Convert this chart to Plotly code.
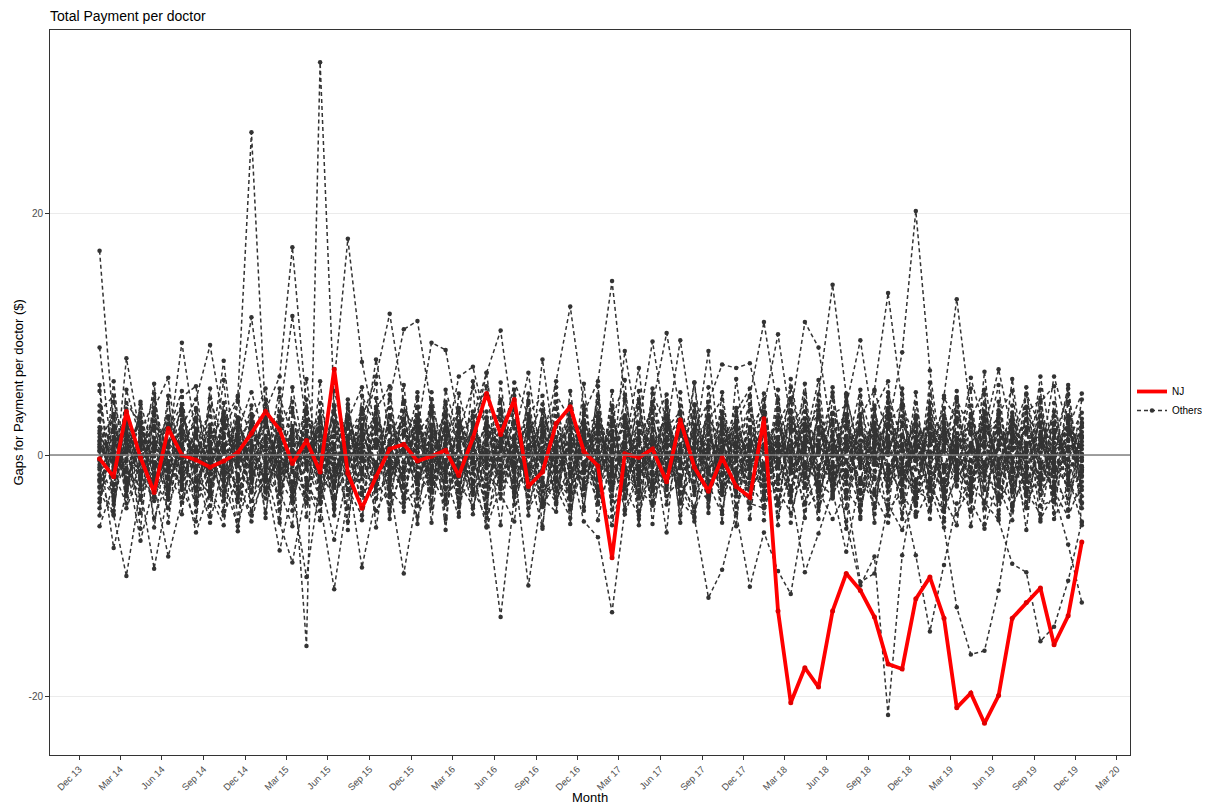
import pandas as pd
import plotly.graph_objects as go

# ---------------- data ----------------
months = [pd.Timestamp(2014 + i // 12, i % 12 + 1, 15) for i in range(72)]

tick_dates = pd.date_range("2013-12-01", "2020-03-01", freq="3MS")
tick_labels = [d.strftime("%b %y") for d in tick_dates]

nj = [-0.3, -1.8, 3.6, -0.2, -3.1, 2.2, 0.0, -0.4, -1.0, -0.5, 0.2, 1.8,
      3.6, 2.1, -0.7, 1.2, -1.4, 7.1, -1.5, -4.4, -1.8, 0.5, 0.9, -0.5,
      -0.1, 0.4, -1.7, 1.4, 5.1, 1.7, 4.6, -2.6, -1.4, 2.6, 4.0, 0.3,
      -0.9, -8.5, 0.1, -0.2, 0.5, -2.2, 2.9, -1.0, -3.0, -0.2, -2.6, -3.5,
      3.0, -12.9, -20.5, -17.6, -19.2, -12.9, -9.8, -11.2, -13.4, -17.3, -17.7, -11.9,
      -10.1, -13.5, -20.9, -19.7, -22.2, -19.9, -13.5, -12.2, -11.0, -15.7, -13.3, -7.2]

others_01 = [16.9, 2.1, -3.4, 1.8, 4.6, -0.7, 2.9, -2.2, 0.8, 3.5, -1.6, 1.2,
             -2.8, 0.4, 3.9, -1.1, 2.3, -4.1, 1.5, 0.2, -2.5, 3.1, -0.6, 2.4,
             -1.9, 4.2, 0.9, -3.3, 1.7, -0.4, 2.8, -1.5, 3.6, 0.3, -2.7, 1.1,
             2.5, -1.8, 0.6, 7.2, -2.9, 1.3, -0.5, 4.1, -1.2, 0.7, 2.2, -3.6,
             1.9, -0.8, 3.7, -2.4, 0.5, 5.2, -1.7, 2.6, -3.1, 1.4, -0.3, 3.3,
             -2.2, 0.9, 4.4, -1.4, 2.1, -3.8, 0.6, 3.0, -1.1, 2.7, -0.9, 1.6]
others_02 = [8.9, -1.2, 2.4, -3.7, 0.5, 3.2, -2.1, 1.6, -0.8, 2.9, 4.8, 26.7,
             3.1, -2.6, 1.9, 0.4, -3.5, 2.2, -0.7, 3.8, -1.9, 0.6, 2.5, -2.3,
             1.4, -0.9, 3.6, -2.8, 0.8, 4.5, -1.3, 2.0, -3.9, 1.1, 0.2, 3.3,
             -1.6, 2.7, -0.2, 1.8, -4.2, 0.9, 3.5, -1.0, 2.3, -2.6, 1.5, 0.3,
             4.0, -2.0, 6.3, -0.6, 3.1, -3.2, 2.2, 0.7, -1.8, 4.3, -0.4, 1.9,
             -3.0, 2.6, 0.1, -1.5, 3.4, -2.4, 1.0, 2.9, -0.8, -2.9, 1.7, 0.5]
others_03 = [-0.8, 3.3, -1.9, 0.7, 2.4, -2.8, 1.4, 3.9, -0.5, 1.8, -3.3, 0.9,
             2.6, -1.4, 0.3, -15.8, 32.5, 4.1, -2.3, 1.2, 3.5, -1.7, 0.8, -2.9,
             1.9, 0.2, -3.1, 2.7, -0.6, 3.4, -2.2, 0.5, 1.6, -4.0, 2.3, -0.9,
             3.2, -1.5, 1.0, -2.5, 4.4, 0.6, -1.9, 2.5, -0.3, 1.3, -3.4, 2.1,
             -0.7, 1.5, -2.6, 3.6, 0.4, -1.6, 2.8, -3.7, 1.1, 0.0, 3.9, -1.2,
             2.4, -3.5, 1.3, 0.8, -2.1, 3.7, -0.4, 1.9, -2.8, 0.6, 2.2, -1.4]
others_04 = [1.2, -2.4, 0.6, 3.1, -1.5, 2.0, -0.3, -3.6, 1.9, 0.4, 2.8, -1.1,
             3.7, 6.5, 17.2, 3.9, -1.8, 0.9, 2.6, -2.0, 1.3, -0.8, 3.0, -1.7,
             0.5, 2.3, -2.9, 1.7, -0.2, 3.8, -1.4, 0.8, 2.5, -3.0, 1.2, 0.1,
             -2.1, 1.6, 3.3, -0.9, 0.4, -2.7, 2.1, 1.0, -1.6, 3.6, -0.5, 2.0,
             -3.3, 0.7, 2.4, -1.1, 3.2, -0.6, -2.4, 1.8, 0.3, -1.9, 2.7, -0.2,
             1.5, -2.6, 0.2, 3.1, -1.3, 0.8, 2.5, -3.2, 1.4, -0.7, 2.9, -1.8]
others_05 = [-1.6, 0.8, 2.7, -0.4, -2.3, 1.1, 3.6, -1.0, 0.3, -2.6, 1.7, 2.4,
             -0.9, 1.4, -2.2, 2.9, 0.6, 6.0, 17.9, 7.7, 2.0, -1.3, 0.7, 2.8,
             -2.4, 0.9, 1.8, -1.2, 3.1, -0.3, 1.5, -2.9, 0.6, 2.6, -1.5, 0.8,
             2.9, -0.6, -2.3, 1.2, 0.5, 3.0, -1.7, 0.2, 2.4, -3.0, 1.0, -0.4,
             0.6, 2.5, -1.4, 0.1, -2.8, 1.9, 3.4, -0.7, -1.9, 2.2, 0.4, -2.7,
             3.0, -1.0, 1.8, -2.3, 0.7, 2.0, -3.1, 0.9, 1.6, -1.2, -0.3, 2.4]
others_06 = [2.3, -0.5, 1.2, -2.1, 3.4, 0.2, -1.4, 2.0, -3.1, 0.6, 1.5, -0.8,
             -1.7, 2.8, 0.4, -0.9, 1.9, -2.6, 3.2, -1.1, 0.7, 2.4, -2.0, 1.3,
             0.1, -1.8, 2.6, 0.8, -3.2, 1.4, -0.6, 3.0, -1.3, 0.9, 2.1, -2.5,
             1.7, 0.3, -1.2, 2.7, -0.8, -2.4, 1.6, 0.5, 8.6, -1.5, 0.0, 1.8,
             -2.6, 1.0, 0.2, 2.3, -1.6, 3.5, 0.9, -2.1, 1.3, 2.2, 8.5, 20.2,
             7.0, -2.0, 2.7, 0.3, -1.3, 1.9, -0.7, 2.3, -2.5, 0.4, 1.2, -0.9]
others_07 = [0.4, 1.9, -2.7, 0.9, 2.2, -1.3, 0.5, 3.0, -2.2, 1.4, -0.6, 2.5,
             -3.0, 0.7, 1.6, -1.9, 2.9, 0.1, -0.9, 2.1, -1.6, 3.3, 0.5, -2.4,
             2.0, -0.7, 1.1, 3.2, -2.0, 0.6, -1.4, 2.3, 0.2, 1.5, -2.6, 3.5,
             6.1, 14.4, 4.7, -0.4, 2.0, -1.9, 0.8, 3.1, -1.0, 2.5, -2.2, 0.9,
             1.6, -1.1, 3.0, 0.4, 5.0, 14.1, 5.0, -0.5, 1.9, -2.6, 0.3, 2.6,
             -0.6, 2.1, -1.7, 3.4, 0.2, -2.3, 1.5, 0.6, 3.2, -1.4, 2.0, -0.5]
others_08 = [-2.0, 0.3, 1.7, -1.4, 0.8, 2.6, -2.5, 0.1, 1.9, -0.9, 3.1, -1.7,
             1.0, -2.3, 2.4, 0.6, -1.0, 3.4, -0.2, -2.7, 1.8, 0.4, -1.4, 2.2,
             -0.4, 3.1, -1.6, 0.7, 2.2, -2.5, 1.0, -0.1, 3.0, -1.9, 0.8, 1.7,
             -2.8, 0.5, 2.6, -1.4, 1.3, 0.2, -0.9, 6.0, -2.1, 0.4, 3.2, -1.0,
             0.9, 2.8, -0.6, -1.8, 1.7, 0.5, -2.2, 3.1, 5.4, 13.4, 4.2, 1.1,
             -1.5, 4.9, 12.9, 3.3, -0.8, 1.8, -2.0, 0.7, 2.6, -1.1, 0.3, 1.9]
others_09 = [3.0, -1.5, 0.2, 2.3, -0.6, -2.9, 1.8, 0.6, -1.2, 2.7, 0.0, -2.3,
             1.6, 0.5, -2.6, 1.9, 3.1, -1.0, 0.3, 2.5, -2.4, 1.2, 3.0, -0.3,
             -1.4, 2.2, 0.4, -2.1, 1.0, 3.5, -0.7, 2.9, 1.1, 6.1, 12.3, 4.1,
             -0.9, 1.5, -2.6, 2.0, 0.6, -1.3, 3.4, -0.2, 1.7, -2.4, 2.8, 4.9,
             11.0, 3.7, -1.2, 0.8, 2.3, -1.5, 1.1, -2.9, 0.6, 2.4, -0.7, 3.1,
             0.2, -2.3, 1.4, 2.6, -1.6, 0.9, 3.2, -0.6, -2.1, 1.5, 0.4, 2.7]
others_10 = [1.5, -0.2, 2.9, -1.8, 0.9, -3.2, 2.1, 0.4, -1.0, 2.2, 4.5, 11.4,
             2.7, -1.6, 0.8, 3.6, -0.4, -2.2, 1.6, 3.7, -1.3, 0.2, 2.0, -1.9,
             3.4, -2.2, 0.6, 1.9, -1.1, 0.3, 4.0, -2.4, 7.9, -0.2, 3.3, -0.8,
             0.7, -2.9, 1.9, -0.5, 3.0, -1.8, 0.4, 1.6, -3.1, 2.4, 0.9, -1.2,
             2.5, -0.3, -2.6, 1.4, 0.0, 2.9, -1.3, 4.2, -0.8, 1.0, -2.5, 0.5,
             1.8, 0.6, -1.2, -3.0, 2.4, -0.4, 1.3, -1.9, 3.3, 0.1, -2.0, 1.1]
others_11 = [-0.3, 2.4, -1.1, 0.5, 3.3, -0.9, -2.4, 1.7, 0.9, -1.5, 2.0, 5.2,
             1.3, 3.2, 11.5, 2.4, -1.2, 1.6, 0.2, 3.0, 6.5, 11.7, 4.4, 0.6,
             -2.0, 1.2, 2.7, -0.5, -2.6, 1.8, 0.7, -1.6, 2.1, 3.2, -0.3, 1.0,
             -1.2, 0.8, 2.3, -2.0, 1.0, 3.1, -0.6, -2.2, 1.2, 0.3, 2.6, -1.5,
             3.3, -1.9, 0.7, 2.0, -3.0, 0.2, 1.6, -0.4, 2.7, -1.3, 0.9, -2.3,
             0.8, 3.0, -0.6, 1.0, -1.8, 2.6, -0.2, -2.7, 0.9, 2.1, -1.0, 0.0]
others_12 = [0.9, -1.8, 1.3, 2.6, -0.8, 0.6, 9.3, 1.5, -2.1, 0.8, 2.9, -1.4,
             -0.5, 1.9, -2.9, 0.3, 2.2, -1.3, 1.0, 3.4, -0.9, 4.6, 10.4, 11.1,
             3.9, 0.5, -1.7, 2.5, 0.0, -2.3, 1.4, 6.8, -1.2, 0.7, -3.1, 2.2,
             1.1, -0.7, 3.0, -1.9, 0.2, 2.1, -2.4, 1.3, 0.8, -1.0, 2.4, -2.9,
             -0.8, 2.1, 1.2, -2.7, 0.7, -0.1, 3.0, -1.1, 2.3, 0.6, -2.0, 1.4,
             2.6, -1.4, 0.3, 1.7, -2.9, 0.5, 2.2, -0.9, 1.2, -2.6, 3.1, -0.2]
others_13 = [-1.2, 0.7, 3.4, -2.0, 1.1, -0.5, 2.4, 4.6, 9.1, 2.6, -0.9, 1.8,
             0.4, -2.4, 1.7, -0.6, 2.8, 0.1, -1.9, 2.3, 1.0, -1.5, 3.6, 2.1,
             9.3, 8.7, 2.8, -1.1, 1.3, 2.4, -1.8, 0.6, 2.7, -1.4, 1.0, -0.6,
             2.2, -1.3, 8.6, 1.4, -3.0, 2.6, 0.5, -0.7, 3.1, 1.1, -2.1, 0.8,
             -1.0, 0.4, 2.9, -1.6, 1.2, -2.5, 0.6, 2.5, -1.3, 0.3, 3.2, -0.5,
             1.3, 2.7, -2.1, 0.5, 1.6, -1.1, 2.9, 0.2, -1.7, 1.8, -0.4, 2.3]
others_14 = [2.0, -2.9, 8.0, 1.5, -1.7, 3.0, 0.1, -1.2, 2.5, -2.0, 0.7, 3.3,
             -1.0, 1.1, -0.4, 2.7, -2.7, 1.5, 3.3, -0.5, 0.9, -2.3, 1.6, 0.0,
             2.5, -1.3, 1.8, 3.1, 6.8, 10.3, 2.2, -0.8, 1.7, -1.9, 0.5, 2.9,
             -0.3, 2.4, -1.7, 0.9, 4.1, 10.1, 3.5, -1.4, 0.8, 2.2, -2.0, 1.2,
             0.1, -2.4, 1.9, 3.0, -0.9, 1.3, -1.8, 0.8, 2.6, -3.0, 1.5, 0.4,
             -2.7, 1.2, 0.6, -1.0, 2.8, -0.3, 1.1, -2.2, 0.7, 2.5, -1.6, 0.8]
others_15 = [0.6, 1.3, -1.4, -2.5, 2.0, 0.8, -0.7, 1.9, 3.2, -1.1, -2.6, 0.4,
             2.3, -0.6, 1.2, 0.9, -2.1, 2.7, -1.5, 0.6, 2.6, -0.2, -1.8, 3.1,
             -1.1, 2.0, -0.8, 1.5, 6.8, -2.0, 0.2, 1.8, -0.4, 2.4, -1.6, 0.9,
             1.9, -2.2, 0.7, 2.5, 9.4, 2.0, 9.5, 1.8, -1.5, 0.6, 2.7, -0.8,
             2.0, 0.8, -1.5, 2.4, 0.5, -1.9, 1.0, 2.1, -0.6, 3.3, -2.3, 0.7,
             -0.1, 1.6, -2.5, 0.9, 3.0, -1.0, 0.4, 2.0, -2.4, 1.0, 0.6, -1.3]
others_16 = [-2.6, 0.0, 2.1, -0.7, 1.4, -1.9, 0.8, 2.8, -0.3, 7.8, -2.2, 2.0,
             0.7, 1.8, -1.3, -2.8, 0.5, 2.0, -0.3, 1.3, 3.0, -2.1, 0.9, -0.6,
             1.6, -2.7, 0.9, 2.0, -0.9, 1.1, 2.6, -1.7, 0.3, -0.6, 2.7, 1.3,
             -1.8, 0.6, 2.8, -0.1, 1.5, -2.5, 0.3, 2.1, 4.4, 7.5, 7.2, 7.6,
             2.4, -0.5, 3.5, 11.0, 8.9, 1.2, -1.3, 0.4, 2.5, -1.2, 1.7, -2.4,
             0.9, 2.2, -0.8, -2.0, 1.5, 2.7, -1.4, 0.3, 1.9, -0.5, 2.6, 0.1]
others_17 = [1.8, -0.9, 0.4, 2.7, -2.1, 1.0, -0.2, -2.9, 1.5, 3.2, -0.4, 0.6,
             -2.2, 2.5, 0.9, 1.4, -0.8, -1.7, 2.4, 0.3, 7.9, 1.9, 0.8, 2.6,
             0.3, -1.5, 2.3, -2.4, 1.9, 0.6, 6.0, 3.3, 0.1, -2.2, 1.7, -1.1,
             2.8, 1.2, -1.0, -2.3, 2.2, 0.7, 1.9, -1.2, 0.5, 3.0, -1.4, 2.3,
             4.0, 10.0, 2.8, -1.0, 0.9, 3.4, 4.1, 9.5, 2.0, -1.6, 0.7, 2.4,
             -1.9, 0.5, 3.1, -0.5, 1.1, -2.6, 2.1, -0.2, 0.8, 3.2, -1.5, 1.4]
others_18 = [-0.4, 2.2, -2.3, 1.1, 0.3, 2.5, -1.8, 0.7, -0.9, 1.6, 2.3, -2.0,
             1.4, -1.0, 2.1, -0.1, 3.0, -2.5, 0.6, 1.8, -0.7, 2.2, -2.6, 0.7,
             2.3, 0.9, 6.5, 7.3, 2.5, -0.9, 1.2, -2.6, 2.0, 0.3, -1.0, 2.6,
             -0.6, 3.1, 0.2, -1.5, 0.8, 2.4, -2.2, 0.9, 1.8, -0.9, 0.2, 2.9,
             -1.7, 1.4, 0.3, 2.6, -1.2, 0.8, 2.3, -0.3, 3.2, 1.0, -1.6, 0.9,
             2.5, 1.3, -0.4, 6.4, 2.1, 7.1, 1.8, 5.0, -0.6, 6.5, 2.2, 5.1]
others_19 = [-5.9, -2.5, 1.0, -1.6, -3.8, 0.2, -2.9, 1.4, -0.8, -3.3, 0.9, -1.9,
             -3.6, 0.8, -1.4, -4.0, 0.5, -2.2, 1.3, -3.1, -0.6, 1.0, -2.5, -4.2,
             0.1, -2.8, -1.0, 1.4, -3.5, -0.9, -2.2, 0.7, -4.1, -1.3, 0.9, -2.6,
             -1.5, 0.6, -3.3, -0.4, -2.1, 1.2, -3.9, -0.7, 0.5, -2.8, -1.1, 1.0,
             -3.0, -0.5, 0.8, -2.4, -4.3, -1.0, -5.5, -10.8, -8.4, -21.5, -8.3, -2.0,
             -1.4, 0.3, -2.6, -4.5, 6.9, -3.4, 6.3, -2.1, 6.5, -0.3, 5.8, -4.0]
others_20 = [0.3, -7.7, -3.0, -0.2, -1.9, -4.4, -0.6, -2.7, 0.4, -1.4, -3.6, -0.3,
             -1.9, -3.2, 0.2, -2.1, -4.6, 0.6, -1.7, -0.4, -3.0, -2.0, 0.3, -1.5,
             -3.1, 0.4, -2.3, -4.2, -0.8, 1.1, -2.9, -1.2, -0.2, -3.6, -1.8, 0.5,
             -2.6, -0.9, 0.8, -3.6, -1.7, -0.2, -2.4, -4.3, 0.2, -1.0, -3.1, -0.6,
             -0.9, -3.7, -1.3, 0.6, -2.2, -3.4, -0.4, -1.9, -4.0, -1.1, -3.2, -5.1,
             -2.8, -6.0, -12.6, -16.5, -16.2, -11.2, -4.3, -1.4, -3.3, -0.9, -2.5, -1.2]
others_21 = [-2.1, 0.5, -1.2, -3.4, 0.9, -1.8, -3.5, -0.1, -2.6, 0.8, -0.9, -3.0,
             -0.7, -2.0, -3.8, 0.4, -1.3, -3.6, -0.8, 0.9, -2.1, -4.1, -1.0, 0.2,
             -2.4, -1.1, 0.6, -3.0, -1.6, -2.8, 0.3, -3.9, -1.4, 0.2, -2.5, -1.3,
             0.4, -2.3, -1.5, -3.1, 0.6, -1.9, -0.3, -2.6, -3.7, 0.0, -1.6, -2.7,
             -1.2, -2.9, -4.8, -0.7, -2.4, -1.1, -3.5, -0.2, -2.0, -4.5, -3.1, -8.3,
             -14.6, -9.1, -4.0, -2.2, -3.9, -5.4, -9.0, -9.7, -15.4, -14.2, -10.4, -5.5]
others_22 = [-1.0, -3.3, -0.5, -7.1, -2.4, 0.1, -1.6, -3.9, -0.4, -2.2, -5.9, -1.2,
             -2.9, -0.1, -2.3, -1.2, -3.4, -0.3, -2.8, -5.0, -1.0, -0.6, -3.3, -2.1,
             -0.5, -3.6, -1.8, 0.0, -4.4, -13.4, -3.5, -0.9, -2.3, -3.9, -0.7, -5.5,
             -6.8, -13.0, -4.6, -1.0, -2.6, 0.1, -3.2, -1.5, -2.9, -0.8, -4.2, -1.7,
             -2.5, -0.6, -3.3, -1.6, 0.2, -2.8, -1.3, -4.1, -0.3, -2.6, -1.0, -3.6,
             -0.9, -3.0, -1.1, 0.3, -2.7, -4.6, -1.0, -3.1, -2.0, 0.1, -2.9, -1.7]
others_23 = [-3.1, -5.0, -10.0, -2.8, -9.4, -3.0, -1.1, -6.4, -2.9, -5.0, -1.7, -3.8,
             -1.4, -5.6, -8.9, -2.6, -4.0, -11.1, -3.3, -1.2, -4.6, -2.5, -9.8, -3.2,
             -1.7, -4.1, -0.6, -2.8, -5.2, -1.5, -3.1, -0.9, -4.3, -2.0, -3.5, -0.8,
             -3.9, -1.2, -2.8, -5.0, -0.9, -3.4, -2.0, -4.7, -1.4, -3.1, -0.5, -2.3,
             -4.2, -1.8, -2.9, -9.7, -6.5, -3.0, -8.0, -2.0, -3.3, -5.6, -1.4, -3.0,
             -3.6, -0.8, -4.9, -2.4, -1.3, -3.7, -1.8, -4.4, -0.7, -3.0, -5.1, -2.2]
others_24 = [-2.7, -1.5, -4.0, -0.7, -2.5, -8.4, -3.9, -1.3, -5.6, -0.6, -2.8, -4.7,
             -1.8, -7.9, -3.1, -10.1, -2.2, -7.0, -1.5, -9.3, -3.6, -0.9, -2.7, -5.1,
             -2.2, -0.4, -3.9, -1.5, -6.0, -2.6, -1.1, -10.8, -3.0, -1.9, -4.5, -0.6,
             -3.0, -5.8, -1.3, -2.9, -4.0, -1.1, -2.5, -5.2, -11.8, -9.5, -4.8, -10.9,
             -6.4, -9.6, -11.5, -4.6, -2.9, -5.3, -3.1, -10.5, -9.8, -4.1, -6.2, -3.3,
             -2.4, -4.7, -1.6, -3.8, -6.1, -2.0, -4.2, -1.1, -5.3, -3.2, -7.4, -12.2]
others_25 = [4.1, -0.7, 1.6, -2.4, 2.8, -1.2, 0.3, -3.0, 2.2, 0.5, -1.8, 3.0,
             -0.2, -3.9, 2.0, 1.1, -1.6, 4.0, -0.8, 1.5, -2.9, 0.8, 2.9, -1.0,
             1.2, 3.3, -2.5, 0.6, -0.3, 2.0, -3.4, 1.7, 4.2, -0.5, 1.4, -2.8,
             0.1, 2.0, -1.1, 4.3, -2.3, 1.5, 2.8, -0.9, -3.5, 1.9, 0.6, 3.7,
             -2.1, 1.3, 4.5, -1.9, 0.2, 2.7, -0.6, -3.2, 1.6, 3.9, -1.2, 0.3,
             3.4, -2.9, 0.7, 2.3, -0.9, -3.6, 1.7, 4.0, -1.5, 0.5, 2.8, -2.6]
others_26 = [-3.6, 1.0, -0.3, 3.5, -1.0, 1.9, 4.2, -2.0, 0.1, -3.8, 2.6, 0.3,
             3.3, -1.9, -0.1, 2.0, -3.1, 0.9, 2.3, -1.6, 4.0, -0.4, -3.4, 1.2,
             -1.3, 2.6, -3.6, -0.2, 2.7, 1.2, -2.6, 0.1, -1.9, 3.8, 0.2, -3.3,
             2.4, -3.4, 1.6, 0.3, -0.6, 3.9, -1.1, 2.0, -2.6, 0.6, 3.9, -2.3,
             0.5, 3.1, -3.0, 1.5, 4.1, -2.1, 0.3, 1.9, -2.9, 0.9, 2.4, -3.9,
             1.0, 3.9, -1.3, -2.7, 1.8, 3.1, -2.5, 0.0, 2.7, -3.9, 1.2, 3.5]
others_27 = [5.3, -4.1, 3.8, 0.0, -3.0, 4.3, -1.2, 2.2, -4.2, 3.6, 1.0, -3.1,
             4.6, 0.3, -3.5, 3.4, 1.2, -4.5, 2.2, 0.0, -3.6, 3.9, -1.2, 4.0,
             -3.8, 1.6, 3.9, -4.4, 0.4, -1.8, 3.7, -3.4, 1.5, 4.4, -4.2, 2.0,
             -1.9, 4.1, -3.6, 1.8, 3.5, -4.1, 0.9, -3.0, 4.0, -1.7, 2.1, -4.4,
             3.6, -4.0, 2.2, 4.4, -3.4, 0.6, 3.3, -4.6, 0.8, 4.8, -3.9, 1.9,
             -4.5, 3.3, 0.9, -3.3, 4.2, -1.6, 3.5, -4.3, 1.3, -2.2, 4.4, -3.4]
others_28 = [-4.4, 3.1, -2.9, 4.4, -0.1, -3.7, 3.3, -0.4, 4.0, -3.0, -0.2, 4.1,
             -3.1, 3.6, -0.9, -3.4, 4.3, -0.7, -4.4, 3.9, 0.6, -3.2, 4.5, -0.1,
             4.0, -3.3, 0.8, 3.6, -4.1, 2.9, -0.2, 4.3, -3.8, 0.4, 3.7, -4.3,
             3.5, -0.3, -4.5, 3.9, -1.4, 4.5, -4.0, 0.6, 3.3, -4.6, 1.0, 4.2,
             -3.7, 4.6, -0.2, -4.1, 3.7, -3.0, 4.8, 0.2, -4.4, 2.6, 4.2, -4.2,
             4.3, -4.4, 2.9, 4.1, -4.0, 1.2, -4.6, 3.5, 4.6, -1.3, -4.6, 3.0]
others_29 = [0.7, -0.6, 0.5, 1.2, -1.1, -0.8, 1.4, 0.3, -1.5, 0.1, 1.3, -0.7,
             1.0, -1.2, 0.4, -0.5, 1.6, -1.4, 0.8, -0.2, 1.1, -1.0, 0.2, 1.5,
             -0.9, 0.6, -1.3, 1.1, -0.2, 0.7, -1.0, 1.4, -0.6, 0.3, -1.4, 0.9,
             1.3, -0.4, 0.9, -1.2, 1.0, -0.7, 0.1, 1.5, -1.3, 0.6, -0.3, 1.2,
             -1.1, 0.8, -0.5, 1.3, -1.6, 0.4, 1.1, -0.9, 0.2, 1.4, -1.2, 0.6,
             0.3, -1.3, 1.2, -0.4, 0.8, -1.5, 0.6, 1.0, -0.8, -0.1, 1.3, -1.0]
others_30 = [-0.5, 1.5, -2.0, 0.4, 1.0, -1.4, 2.0, -0.9, 0.6, -1.7, 1.2, 0.0,
             -1.3, 2.1, -0.3, 1.4, -1.9, 0.5, -0.6, 1.8, -1.2, 0.7, 1.9, -2.2,
             0.8, -1.5, 1.9, -0.7, 0.3, -2.0, 1.6, -0.1, 2.2, -1.1, 0.6, 1.4,
             -1.0, 1.7, -2.1, 0.2, 1.3, -0.8, 2.3, -1.6, 0.4, 1.1, -1.9, 0.6,
             1.8, -0.9, 0.3, -1.7, 2.0, 0.6, -1.4, 1.2, -0.2, -2.1, 1.6, -0.5,
             -0.2, 1.9, -1.6, 0.8, -0.7, 2.2, -1.2, 0.4, 1.5, -1.8, 0.7, -0.4]
others_31 = [5.8, -4.6, 2.2, -6.1, 3.9, 6.4, -2.7, -5.5, 4.7, 0.9, -6.3, 3.4,
             -5.2, 4.8, 1.6, -3.9, 6.1, -4.4, 2.9, 5.6, -6.0, 1.2, 4.3, -5.7,
             3.7, -6.2, 5.1, 0.4, -4.8, 6.0, -2.1, 4.5, -5.9, 2.6, -3.7, 5.9,
             -4.1, 2.9, 6.2, -5.3, 1.0, -6.4, 5.2, -2.8, 4.0, -5.6, 6.3, -1.9,
             4.6, -5.1, -1.4, 5.9, -4.0, 2.5, -6.1, 4.9, 0.7, -5.0, 5.5, -3.2,
             6.0, -3.6, -5.8, 3.1, 5.4, -4.9, 2.0, -6.2, 4.4, 5.7, -4.5, 1.5]
others_32 = [-5.0, 6.1, -3.3, 4.2, -6.0, 1.9, 5.3, -4.1, -1.6, 6.2, -5.4, 2.7,
             5.5, -2.9, -5.9, 6.3, -1.8, 4.1, -5.5, 2.2, 5.9, -4.7, -0.6, 5.2,
             -5.6, 3.6, -4.3, 6.1, 2.0, -5.8, 4.4, -1.2, -6.1, 5.0, 2.9, -4.6,
             5.7, -5.1, 0.8, 4.6, -5.7, 3.3, -3.1, 6.0, -4.3, 1.7, -5.9, 4.8,
             -2.6, 5.4, -5.6, 1.1, 6.2, -3.6, 5.1, -5.3, 3.8, 6.1, -4.8, -0.3,
             -5.3, 4.7, 3.0, -5.9, 0.6, 5.8, -4.0, 3.9, -5.5, 1.4, 5.0, -5.8]
others_33 = [2.9, -3.8, 5.4, 1.3, -5.2, -2.0, 4.8, 5.7, -3.4, -5.8, 3.1, -0.9,
             4.2, -5.3, 3.5, -2.4, -5.4, 5.3, 1.0, -4.2, 3.8, 5.7, -3.9, -2.8,
             5.2, -1.9, -5.1, 2.6, 5.7, -3.2, -5.5, 3.4, 4.9, -2.7, -5.2, 1.8,
             -3.4, 5.3, -4.9, -1.6, 5.1, 2.2, -5.0, 4.2, -2.4, -4.9, 3.6, 5.5,
             -5.4, 2.6, 4.7, -3.9, -1.8, 5.6, -2.9, -4.6, 5.3, 1.6, -5.3, 4.3,
             -2.0, -5.2, 4.6, 1.9, -4.4, 3.4, 5.3, -3.0, -4.9, 4.3, -1.7, -5.6]
others_34 = [-3.9, 4.4, 0.6, -4.8, 5.1, -3.5, 1.7, -4.7, 5.5, -2.5, 4.9, -5.0,
             3.0, -4.5, 5.6, -0.8, 2.7, -5.0, 4.6, -3.3, -1.7, 5.0, -4.7, 3.9,
             -4.4, 5.4, 1.5, -4.9, 3.1, -1.4, 5.4, -5.0, 2.4, -4.1, 5.3, -2.2,
             4.3, -3.8, 5.0, -4.6, 2.6, 5.0, -3.8, -5.1, 2.9, 4.6, -4.3, 0.5,
             5.1, -4.2, 2.0, -5.2, 4.5, -2.5, 0.4, 5.4, -4.9, 3.0, -2.9, 5.2,
             -4.6, 0.5, 5.3, -4.7, 3.6, -2.6, -5.4, 5.1, 2.3, -4.8, 3.3, -4.4]
others_35 = [3.6, 4.9, -4.4, -1.3, 5.9, -5.6, 3.5, 0.2, -5.1, 4.3, -2.0, -5.5,
             -0.9, 5.5, -4.6, 4.6, -3.8, 2.8, -6.2, 4.9, 2.4, -5.3, 5.8, -3.6,
             4.6, -5.3, 2.0, 5.6, -5.9, 0.9, 4.9, -4.4, -2.6, 5.6, -5.7, 3.8,
             -5.4, 0.2, 4.5, -5.8, 5.5, -2.9, 4.1, -5.5, 5.6, -3.3, 2.2, -5.3,
             3.2, -5.8, 5.6, -0.9, -5.3, 4.8, -4.4, 3.4, -5.6, 5.2, 0.9, -4.7,
             5.0, -4.3, -1.9, 5.5, -5.7, 4.4, -2.9, 5.6, -4.2, -3.7, 5.5, -2.9]
others_36 = [-2.2, -4.9, 4.3, 2.6, -3.4, 4.9, -4.9, 3.7, 1.1, -4.6, 4.4, 1.6,
             -4.8, 2.3, 4.4, -5.1, 3.6, -3.4, 4.2, -5.4, 4.7, -2.9, -4.3, 4.8,
             -3.0, 4.4, -4.8, 3.2, -2.5, 4.6, -4.1, 5.1, -3.6, -4.7, 4.2, -1.5,
             4.9, -4.5, -2.2, 5.3, -3.9, 4.3, -5.6, 3.6, -4.8, 5.2, -2.5, -4.0,
             -4.4, 3.9, -3.8, 5.1, -4.6, -0.8, 4.4, -5.1, 4.1, -3.7, 5.0, -5.0,
             3.7, -5.5, 4.8, -3.3, 5.0, -5.2, 4.1, -3.9, 5.4, -5.3, -2.5, 4.6]
others_37 = [1.1, 3.4, -2.6, 2.0, -3.5, 0.7, 3.8, -1.9, -3.2, 2.4, 0.5, -2.9,
             2.8, -0.8, -3.0, 3.5, 0.4, -2.7, 3.9, -1.4, 2.3, -3.5, 1.8, 3.2,
             -2.8, 1.3, 3.5, -0.6, -3.3, 2.9, 1.0, -2.5, 3.7, -1.0, -3.4, 2.5,
             3.1, -2.6, 1.4, -3.5, 3.7, -0.2, 2.4, -3.3, 1.2, 3.4, -2.8, -0.1,
             -3.4, 2.8, -0.9, 3.6, -2.7, 1.6, -3.6, 2.7, -0.5, 3.5, -2.2, 1.5,
             2.2, -3.3, 3.6, -1.9, -0.6, 3.3, -3.0, 1.8, 3.9, -2.5, -3.6, 2.6]
others_38 = [-1.7, -3.4, 1.9, -0.5, 3.6, -2.6, 0.9, 3.1, -3.0, 1.5, -3.9, 2.1,
             0.0, 3.0, -3.7, 1.6, -0.3, 3.7, -2.9, -1.1, 2.9, 0.8, -3.6, 1.8,
             3.5, -3.7, -0.2, 2.3, 3.6, -3.6, 0.4, 2.6, -2.2, -3.5, 3.8, 0.1,
             -3.3, 3.8, -2.5, 0.9, -3.8, 2.2, 3.6, -0.4, -3.2, 2.7, 0.6, -3.5,
             2.8, 0.2, -3.9, 2.1, 3.3, -3.3, 1.4, -2.4, 3.8, -0.8, -3.4, 3.0,
             -3.8, 2.3, 0.4, -3.6, 3.5, -0.7, 2.6, -3.4, 0.2, 3.6, -2.3, -3.9]

others = [others_01, others_02, others_03, others_04, others_05, others_06,
          others_07, others_08, others_09, others_10, others_11, others_12,
          others_13, others_14, others_15, others_16, others_17, others_18,
          others_19, others_20, others_21, others_22, others_23, others_24,
          others_25, others_26, others_27, others_28, others_29, others_30,
          others_31, others_32, others_33, others_34, others_35, others_36,
          others_37, others_38]

for s in others + [nj]:
    assert len(s) == 72, len(s)

# ---------------- figure ----------------
# the page body has an 8px margin, so figure coordinates = screen - 8
FONT = "Liberation Sans, Arial, Helvetica, sans-serif"
OFF = 8
W, H = 1210 - OFF, 805 - OFF          # 1202 x 797
PANEL_L, PANEL_R = 50 - OFF, 1130 - OFF
PANEL_T, PANEL_B = 30 - OFF, 755 - OFF
ML, MR, MT, MB = PANEL_L, 0, PANEL_T, H - PANEL_B
PW = W - ML - MR
PH = H - MT - MB

fig = go.Figure()

for k, s in enumerate(others):
    fig.add_trace(go.Scatter(
        x=months, y=s, mode="lines+markers", name="Others",
        legendgroup="others", showlegend=(k == 0), legendrank=2,
        line=dict(color="#333333", width=1.5, dash="4px,3px"),
        marker=dict(color="#333333", size=4.5),
        hoverinfo="skip"))

fig.add_trace(go.Scatter(
    x=months, y=nj, mode="lines", name="NJ", legendgroup="nj", legendrank=1,
    line=dict(color="#ff0000", width=3.8)))
fig.add_trace(go.Scatter(
    x=months, y=nj, mode="markers", name="NJ", legendgroup="nj",
    showlegend=False, marker=dict(color="#e00000", size=5)))

fig.add_shape(type="line", xref="x domain", x0=0, x1=1, yref="y", y0=0, y1=0,
              line=dict(color="#808080", width=1.5), layer="above")

fig.update_layout(
    template="none",
    width=W, height=H,
    margin=dict(l=ML, r=MR, t=MT, b=MB, pad=0, autoexpand=False),
    paper_bgcolor="white", plot_bgcolor="white",
    font=dict(family=FONT, color="#000000"),
    title=dict(text="Total Payment per doctor", x=PANEL_L / W, xanchor="left",
               y=1 - (16 - OFF) / H, yanchor="middle",
               font=dict(size=14, color="#000000")),
    showlegend=True,
    legend=dict(x=(PANEL_R - ML + 2) / PW, xanchor="left",
                y=0.5 - 8.5 / PH, yanchor="middle",
                font=dict(size=10, color="#000000"),
                bgcolor="rgba(0,0,0,0)", borderwidth=0, tracegroupgap=3,
                itemwidth=30, traceorder="normal"),
    xaxis=dict(
        domain=[0, (PANEL_R - ML) / PW],
        range=["2013-09-28", "2020-03-30"],
        tickmode="array", tickvals=list(tick_dates), ticktext=tick_labels,
        tickangle=-45, tickfont=dict(size=9.5, color="#4d4d4d"),
        ticks="outside", ticklen=4, tickcolor="#333333",
        showgrid=False, zeroline=False, automargin=False,
        showline=True, linecolor="#333333", linewidth=1, mirror=True),
    yaxis=dict(
        domain=[0, 1],
        range=[-24.82, 35.17],
        tickmode="array", tickvals=[-20, 0, 20], ticktext=["-20", "0", "20"],
        tickfont=dict(size=10, color="#4d4d4d"),
        ticks="outside", ticklen=4, tickcolor="#333333",
        showgrid=True, gridcolor="#ebebeb", gridwidth=1, zeroline=False,
        automargin=False,
        showline=True, linecolor="#333333", linewidth=1, mirror=True),
    annotations=[
        dict(text="Month", xref="x domain", yref="paper", x=0.5,
             y=(PANEL_B - (797 - OFF)) / PH,
             xanchor="center", yanchor="middle", showarrow=False,
             font=dict(size=13, color="#000000")),
        dict(text="Gaps for Payment per doctor ($)", xref="paper", yref="paper",
             x=((18 - OFF) - ML) / PW, y=0.5, xanchor="center", yanchor="middle",
             textangle=-90, showarrow=False,
             font=dict(size=13, color="#000000")),
    ],
)

fig.write_html("out.html")
